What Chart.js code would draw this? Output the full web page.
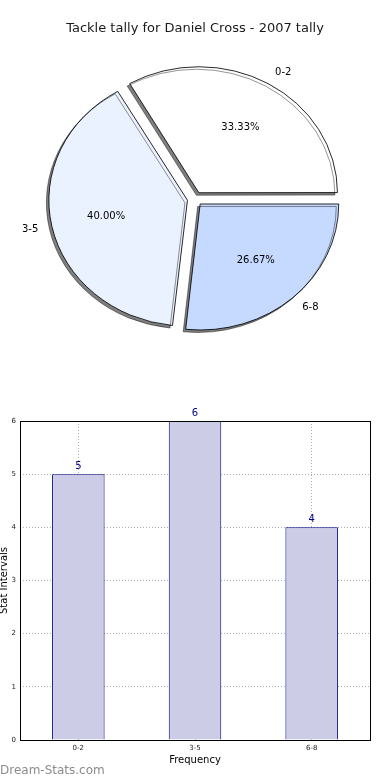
<!DOCTYPE html>
<html>
<head>
<meta charset="utf-8">
<script src="https://cdn.jsdelivr.net/npm/chart.js@4.4.1/dist/chart.umd.min.js"></script>
<style>
  html, body { margin: 0; padding: 0; background: #fff; }
  body { width: 390px; height: 780px; position: relative; overflow: hidden; }
  canvas { position: absolute; left: 0; }
  #pie { top: 0; }
  #bar { top: 380px; }
</style>
</head>
<body>
<canvas id="pie" width="390" height="370"></canvas>
<canvas id="bar" width="390" height="400"></canvas>
<script>
// data
const categories = ["0-2", "3-5", "6-8"];
const counts = [5, 6, 4];
const sliceColors = ["#ffffff", "#ebf2ff", "#c6d9ff"];
const yTicks = [0, 1, 2, 3, 4, 5, 6];

const titleText = "Tackle tally for Daniel Cross - 2007 tally";
const SX = 1.1; // pie is drawn a bit wider than tall

Chart.defaults.font.family = "'DejaVu Sans', sans-serif";
Chart.defaults.color = "#222";

const total = counts.reduce((a, b) => a + b, 0);
const pct = counts.map(v => (v / total * 100).toFixed(2) + "%");

// pie goes counter-clockwise from 3 o'clock, chart.js goes clockwise -> reverse
const pieLabels = categories.slice().reverse();
const pieValues = counts.slice().reverse();
const pieColors = sliceColors.slice().reverse();
const piePct = pct.slice().reverse();

const ellipsePlugin = {
  id: "ellipse",
  afterDatasetUpdate(chart) {
    // chart.js grows exploded wide slices a little, undo that
    chart.getDatasetMeta(0).data.forEach(arc => {
      const fix = 1 - Math.sin(Math.min(Math.PI, arc.circumference));
      arc.outerRadius -= (arc.options.offset || 0) / 4 * fix;
    });
  },
  beforeDatasetsDraw(chart) {
    const a = chart.getDatasetMeta(0).data[0];
    const ctx = chart.ctx;
    ctx.save();
    ctx.translate(a.x, a.y);
    ctx.scale(SX, 1);
    ctx.translate(-a.x, -a.y);
    ctx.shadowColor = "rgba(0,0,0,0.5)";
    ctx.shadowOffsetX = -2.5;
    ctx.shadowOffsetY = 2.5;
    ctx.shadowBlur = 0.5;
  },
  afterDatasetsDraw(chart) {
    const ctx = chart.ctx;
    ctx.restore();
    ctx.save();
    ctx.font = "10px 'DejaVu Sans'";
    ctx.fillStyle = "#000";
    ctx.textBaseline = "middle";
    chart.getDatasetMeta(0).data.forEach((arc, i) => {
      const mid = (arc.startAngle + arc.endAngle) / 2;
      const off = (arc.options.offset || 0) / 4;
      const r = 126;
      const bx = Math.cos(mid), by = Math.sin(mid);
      const lx = arc.x + SX * (off * bx + 1.1 * r * bx);
      const ly = arc.y + off * by + 1.1 * r * by;
      ctx.textAlign = bx >= 0 ? "left" : "right";
      ctx.fillText(pieLabels[i], lx, ly);
      const px = arc.x + SX * (off * bx + 0.6 * r * bx);
      const py = arc.y + off * by + 0.6 * r * by;
      ctx.textAlign = "center";
      ctx.fillText(piePct[i], px, py);
    });
    ctx.restore();
  }
};

new Chart(document.getElementById("pie"), {
  type: "pie",
  data: {
    labels: pieLabels,
    datasets: [{
      data: pieValues,
      backgroundColor: pieColors,
      borderColor: "#000",
      borderWidth: 0.8,
      offset: 28,
      clip: false
    }]
  },
  options: {
    responsive: false,
    animation: false,
    devicePixelRatio: 1,
    events: [],
    rotation: 90,
    radius: 126,
    layout: { padding: { top: 0, bottom: 19, left: 0, right: 0 } },
    plugins: {
      legend: { display: false },
      tooltip: { enabled: false },
      title: {
        display: true,
        text: titleText,
        color: "#1a1a1a",
        font: { size: 13, weight: "normal" },
        padding: { top: 21, bottom: 10 }
      }
    }
  },
  plugins: [ellipsePlugin]
});

// ---------- bar chart ----------
const frame = {
  id: "frame",
  afterDraw(chart) {
    const { ctx, chartArea: a } = chart;
    ctx.save();
    ctx.strokeStyle = "#000";
    ctx.lineWidth = 1;
    ctx.strokeRect(Math.round(a.left) + 0.5, Math.round(a.top) + 0.5,
      Math.round(a.right - a.left), Math.round(a.bottom - a.top));
    // value labels
    ctx.font = "10px 'DejaVu Sans'";
    ctx.fillStyle = "#00008b";
    ctx.textAlign = "center";
    ctx.textBaseline = "middle";
    chart.getDatasetMeta(0).data.forEach((bar, i) => {
      ctx.fillText(String(counts[i]), bar.x, bar.y - 8);
    });
    // watermark
    ctx.font = "12px 'DejaVu Sans'";
    ctx.fillStyle = "#8c8c8c";
    ctx.textAlign = "left";
    ctx.fillText("Dream-Stats.com", 0, 391);
    ctx.restore();
  }
};

new Chart(document.getElementById("bar"), {
  type: "bar",
  data: {
    labels: categories,
    datasets: [{
      data: counts,
      backgroundColor: "#ccccE6",
      borderColor: "#000080",
      borderWidth: 1,
      barPercentage: 0.45,
      categoryPercentage: 1
    }]
  },
  options: {
    responsive: false,
    animation: false,
    devicePixelRatio: 1,
    events: [],
    layout: { padding: { top: 41, right: 20, left: 0, bottom: 0 } },
    plugins: { legend: { display: false }, tooltip: { enabled: false } },
    scales: {
      x: {
        z: 1,
        grid: { offset: false, color: "#b0b0b0", drawTicks: false },
        border: { display: false, dash: [1, 2] },
        ticks: { font: { size: 7 }, padding: 4, color: "#222" },
        title: { display: true, text: "Frequency", font: { size: 10 }, color: "#000", padding: { top: 0, bottom: 14 } },
        afterFit(s) { s.height = 40; }
      },
      y: {
        z: 1,
        min: 0,
        max: 6,
        grid: { color: "#b0b0b0", drawTicks: false },
        border: { display: false, dash: [1, 2] },
        afterBuildTicks(s) { s.ticks = yTicks.map(v => ({ value: v })); },
        ticks: { font: { size: 7 }, padding: 4, color: "#222" },
        title: { display: true, text: "Stat Intervals", font: { size: 10, lineHeight: 0.8 }, color: "#000", padding: 0 },
        afterFit(s) { s.width = 20; }
      }
    }
  },
  plugins: [frame]
});
</script>
</body>
</html>
